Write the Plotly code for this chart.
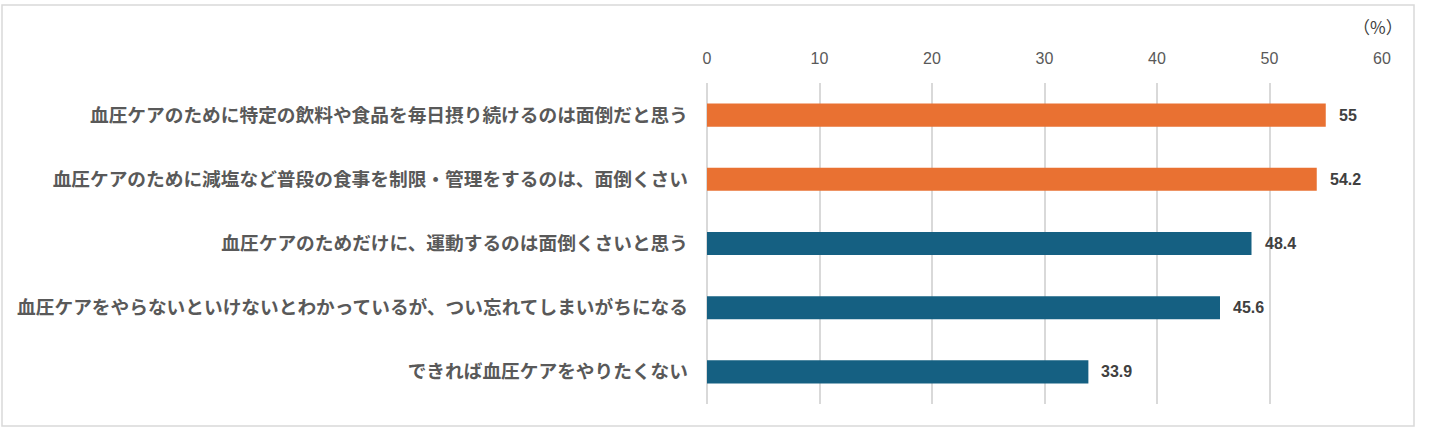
import plotly.graph_objects as go

categories = [
    "血圧ケアのために特定の飲料や食品を毎日摂り続けるのは面倒だと思う",
    "血圧ケアのために減塩など普段の食事を制限・管理をするのは、面倒くさい",
    "血圧ケアのためだけに、運動するのは面倒くさいと思う",
    "血圧ケアをやらないといけないとわかっているが、つい忘れてしまいがちになる",
    "できれば血圧ケアをやりたくない",
]
values = [55, 54.2, 48.4, 45.6, 33.9]
bar_colors = ["#E97132", "#E97132", "#156082", "#156082", "#156082"]
value_labels = ["55", "54.2", "48.4", "45.6", "33.9"]
tick_vals = [0, 10, 20, 30, 40, 50, 60]

W, H = 1429, 428
L, R, T, B = 707, 47, 83, 24
pw, ph = W - L - R, H - T - B

fig = go.Figure()
fig.add_trace(go.Bar(
    x=values, y=categories, orientation="h",
    marker=dict(color=bar_colors, line=dict(width=0)),
    width=0.36, hoverinfo="skip",
))

for v, c, t in zip(values, categories, value_labels):
    fig.add_annotation(
        x=v, y=c, text=f"<b>{t}</b>", showarrow=False,
        xanchor="left", yanchor="middle", xshift=11,
        font=dict(family="Liberation Sans, Arial", size=16, color="#404040"),
    )

fig.add_annotation(
    xref="paper", yref="paper", x=(1405 - L) / pw, y=(H - 26 - B) / ph,
    text="（%）", showarrow=False, xanchor="right", yanchor="middle",
    font=dict(family="Noto Sans CJK JP", size=17, color="#404040"),
)

fig.add_shape(
    type="rect", xref="paper", yref="paper",
    x0=(2 - L) / pw, x1=(1414 - L) / pw,
    y0=(H - 426 - B) / ph, y1=(H - 5 - B) / ph,
    line=dict(color="#D9D9D9", width=1.5), fillcolor="rgba(0,0,0,0)", layer="below",
)

fig.update_layout(
    width=W, height=H,
    margin=dict(l=L, r=R, t=T, b=B, pad=0),
    paper_bgcolor="white", plot_bgcolor="white",
    showlegend=False,
    xaxis=dict(
        side="top", range=[0, 60], tickvals=tick_vals,
        showgrid=True, gridcolor="#D9D9D9", gridwidth=1.5,
        zeroline=True, zerolinecolor="#D9D9D9", zerolinewidth=1.5,
        showline=False, ticks="", ticklabelstandoff=15,
        tickfont=dict(family="Liberation Sans, Arial", size=16, color="#595959"),
        fixedrange=True,
    ),
    yaxis=dict(
        autorange="reversed", showgrid=False, showline=False, ticks="",
        ticklabelstandoff=18,
        tickfont=dict(family="Noto Sans CJK JP", size=18.7, color="#595959", weight="bold"),
        fixedrange=True,
    ),
)

fig.write_html(
    "out.html",
    config={"displayModeBar": False},
    post_script="document.body.style.margin='0';document.body.style.padding='0';",
)
